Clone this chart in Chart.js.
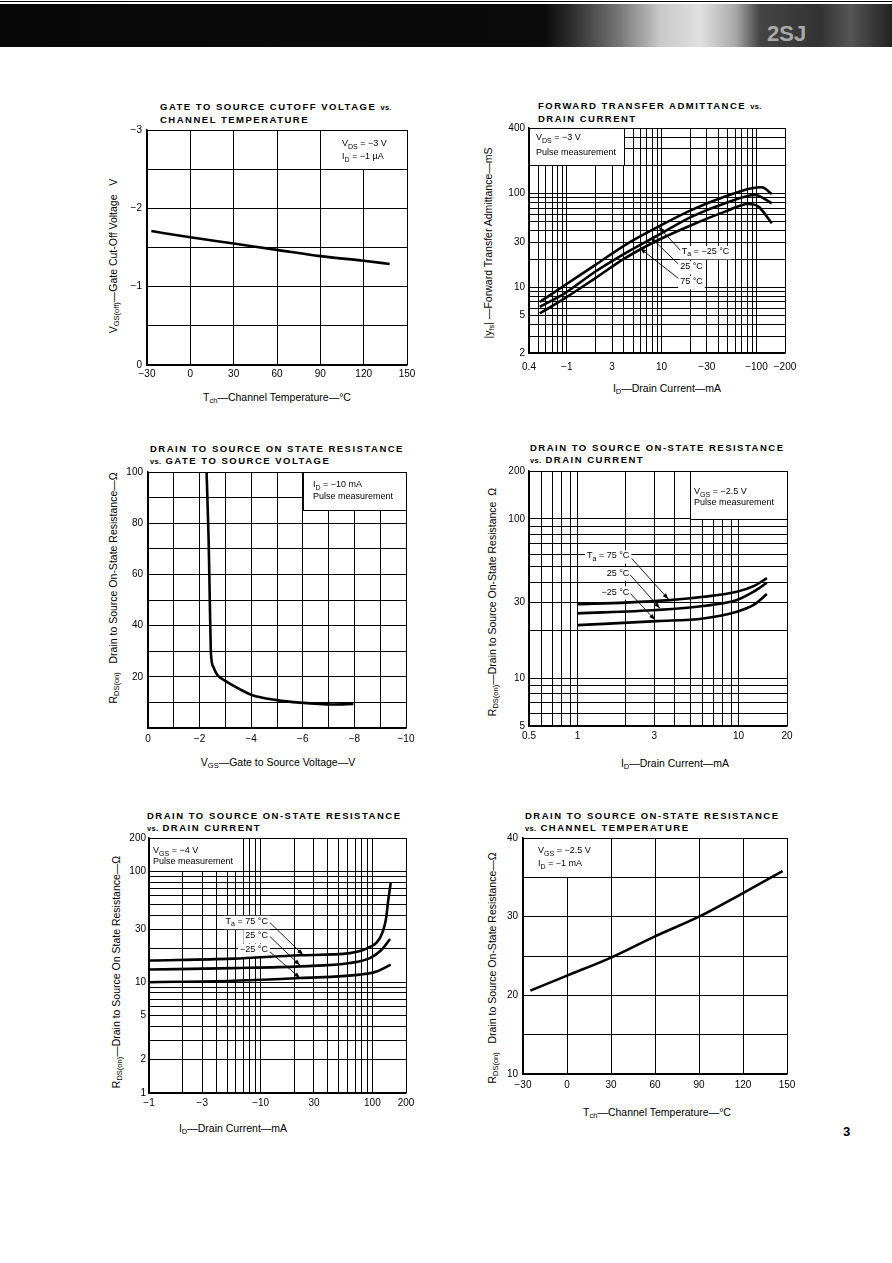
<!DOCTYPE html>
<html>
<head>
<meta charset="utf-8">
<script src="https://cdn.jsdelivr.net/npm/chart.js"></script>
<style>
html, body { margin: 0; padding: 0; background: #fff; }
#page { position: relative; width: 892px; height: 1263px; overflow: hidden; background: #fff; font-family: 'Liberation Sans', Arial, sans-serif; color: #000; }
.hline { position: absolute; left: 0; top: 1px; width: 892px; height: 1px; background: #000; }
.hdr { position: absolute; left: 0; top: 4px; width: 892px; height: 43px;
  background: linear-gradient(90deg, #080808 0px, #0b0b0b 545px, #333 575px, #777 620px, #c8c8c8 660px, #e0e0e0 700px, #aaa 735px, #444 760px, #333 820px, #555 850px, #222 892px); }
.hdr span { position: absolute; left: 767px; top: 17px; font: bold 22px 'Liberation Sans', Arial, sans-serif; color: #aaa; }
.title { position: absolute; font-weight: bold; font-size: 9.5px; letter-spacing: 1.5px; line-height: 11.5px; white-space: nowrap; }
.title small { font-size: 7.5px; letter-spacing: 0.3px; }
.xt, .yt { position: absolute; font-size: 10.5px; white-space: nowrap; }
.xt { transform: translate(-50%, -50%); }
.yt { transform: translate(-50%, -50%) rotate(-90deg); }
sub { font-size: 7.5px; vertical-align: -2px; line-height: 0; }
.pg { position: absolute; left: 843px; top: 1124px; font-weight: bold; font-size: 13px; }
canvas { position: absolute; }
</style>
</head>
<body>
<div id="page">
  <div class="hline"></div>
  <div class="hdr"><span>2SJ</span></div>

  <div class="title" style="left:160px;top:101px">GATE TO SOURCE CUTOFF VOLTAGE <small>vs.</small><br>CHANNEL TEMPERATURE</div>
  <div class="title" style="left:538px;top:100px">FORWARD TRANSFER ADMITTANCE <small>vs.</small><br>DRAIN CURRENT</div>
  <div class="title" style="left:150px;top:443px">DRAIN TO SOURCE ON STATE RESISTANCE<br><small>vs.</small> GATE TO SOURCE VOLTAGE</div>
  <div class="title" style="left:530px;top:442px">DRAIN TO SOURCE ON-STATE RESISTANCE<br><small>vs.</small> DRAIN CURRENT</div>
  <div class="title" style="left:147px;top:810px">DRAIN TO SOURCE ON-STATE RESISTANCE<br><small>vs.</small> DRAIN CURRENT</div>
  <div class="title" style="left:525px;top:810px">DRAIN TO SOURCE ON-STATE RESISTANCE<br><small>vs.</small> CHANNEL TEMPERATURE</div>

  <div class="xt" style="left:277px;top:397px">T<sub>ch</sub>—Channel Temperature—°C</div>
  <div class="yt" style="left:113px;top:256px">V<sub>GS(off)</sub>—Gate Cut-Off Voltage&nbsp;&nbsp;&nbsp;V</div>
  <div class="xt" style="left:667px;top:388px">I<sub>D</sub>—Drain Current—mA</div>
  <div class="yt" style="left:488px;top:243px">|y<sub>fs</sub>|&nbsp;—Forward Transfer Admittance—mS</div>
  <div class="xt" style="left:278px;top:762px">V<sub>GS</sub>—Gate to Source Voltage—V</div>
  <div class="yt" style="left:113px;top:588px">R<sub>DS(on)</sub>&nbsp;&nbsp;&nbsp;Drain to Source On-State Resistance—Ω</div>
  <div class="xt" style="left:675px;top:763px">I<sub>D</sub>—Drain Current—mA</div>
  <div class="yt" style="left:492px;top:602px">R<sub>DS(on)</sub>—Drain to Source On-State Resistance&nbsp;&nbsp;Ω</div>
  <div class="xt" style="left:233px;top:1128px">I<sub>D</sub>—Drain Current—mA</div>
  <div class="yt" style="left:116px;top:972px">R<sub>DS(on)</sub>—Drain to Source On State Resistance—Ω</div>
  <div class="xt" style="left:657px;top:1112px">T<sub>ch</sub>—Channel Temperature—°C</div>
  <div class="yt" style="left:492px;top:968px">R<sub>DS(on)</sub>&nbsp;&nbsp;&nbsp;Drain to Source On-State Resistance—Ω</div>

  <div class="pg">3</div>
</div>

<script>
// ---- data ----
// 1: VGS(off) vs channel temperature
const c1Temp = [-27, 0, 30, 60, 90, 120, 138];
const c1Vgs = [-1.71, -1.63, -1.55, -1.47, -1.39, -1.33, -1.29];

// 2: |yfs| vs ID, three ambient temperatures
const c2IdN25 = [0.52, 0.96, 1.99, 4.12, 9.25, 20.8, 46.7, 89, 114, 145];
const c2YfsN25 = [7.0, 10.6, 17.3, 28.3, 44.4, 67, 93, 114, 117, 99];
const c2Id25 = [0.52, 0.96, 1.99, 4.12, 9.25, 20.8, 46.7, 97, 145];
const c2Yfs25 = [6.2, 8.7, 14.7, 23.1, 36.2, 56.8, 78.9, 96.7, 78.9];
const c2Id75 = [0.52, 0.96, 1.99, 4.12, 9.25, 20.8, 46.7, 82, 105, 145];
const c2Yfs75 = [5.3, 7.7, 12.5, 20.5, 32.0, 46.3, 64.2, 77.5, 72.6, 48.3];

// 3: RDS(on) vs VGS
const c3Vgs = [-2.27, -2.35, -2.40, -2.44, -2.53, -2.69, -2.98, -3.57, -4.02, -4.99, -5.89, -7.18, -7.96];
const c3Rds = [100, 73.4, 47.4, 29.2, 23.9, 20.7, 18.5, 15.1, 12.9, 10.9, 9.9, 9.2, 9.4];

// 4: RDS(on) vs ID at VGS = -2.5 V
const c4Id75 = [1.0, 2.0, 3.75, 6.05, 9.76, 12.4, 15];
const c4Rds75 = [29.1, 29.8, 30.9, 32.4, 34.9, 37.8, 42.4];
const c4Id25 = [1.0, 3.1, 6.05, 9.76, 12.4, 15];
const c4Rds25 = [25.5, 26.8, 28.4, 30.9, 34.9, 39.7];
const c4IdN25 = [1.0, 3.1, 6.05, 9.76, 12.4, 15];
const c4RdsN25 = [21.5, 22.8, 23.7, 26.1, 28.8, 33.7];

// 5: RDS(on) vs ID at VGS = -4 V
const c5Id75 = [1, 5.7, 22.5, 63, 95, 117, 132, 139, 146];
const c5Rds75 = [15.7, 16.3, 17.5, 18.3, 20.8, 25.1, 36.6, 55.6, 78.6];
const c5Id25 = [1, 5.7, 22.5, 63, 95, 121, 144];
const c5Rds25 = [13.0, 13.4, 13.9, 14.9, 16.5, 19.6, 24.5];
const c5IdN25 = [1, 5.7, 22.5, 77.4, 109, 146];
const c5RdsN25 = [10.0, 10.3, 10.9, 11.7, 12.5, 14.4];

// 6: RDS(on) vs channel temperature
const c6Temp = [-25, 0, 30, 60, 90, 120, 147];
const c6Rds = [20.6, 22.5, 24.8, 27.5, 30.0, 33.0, 35.8];

// ---- tick labels ----
const c1XTicks = [-30, 0, 30, 60, 90, 120, 150];
const c1XText = ['−30', '0', '30', '60', '90', '120', '150'];
const c1YTicks = [-3, -2, -1, 0];
const c1YText = ['−3', '−2', '−1', '0'];
const c2XTicks = [0.4, 1, 3, 10, 30, 100, 200];
const c2XText = ['0.4', '−1', '3', '10', '−30', '−100', '−200'];
const c2YTicks = [2, 5, 10, 30, 100, 500];
const c2YText = ['2', '5', '10', '30', '100', '400'];
const c3XTicks = [0, -2, -4, -6, -8, -10];
const c3XText = ['0', '−2', '−4', '−6', '−8', '−10'];
const c3YTicks = [20, 40, 60, 80, 100];
const c3YText = ['20', '40', '60', '80', '100'];
const c4XTicks = [0.5, 1, 3, 10, 20];
const c4XText = ['0.5', '1', '3', '10', '20'];
const c4YTicks = [5, 10, 30, 100, 200];
const c4YText = ['5', '10', '30', '100', '200'];
const c5XTicks = [1, 3, 10, 30, 100, 200];
const c5XText = ['−1', '−3', '−10', '30', '100', '200'];
const c5YTicks = [1, 2, 5, 10, 30, 100, 200];
const c5YText = ['1', '2', '5', '10', '30', '100', '200'];
const c6XTicks = [-30, 0, 30, 60, 90, 120, 150];
const c6XText = ['−30', '0', '30', '60', '90', '120', '150'];
const c6YTicks = [10, 20, 30, 40];
const c6YText = ['10', '20', '30', '40'];

const FONT = "'Liberation Sans', Arial, sans-serif";
const YW = 45, XH = 22, PT = 8, PR = 22;

function steps(a, b, s) {
  const out = [];
  for (let v = a; v <= b + 1e-9; v += s) out.push(+v.toFixed(6));
  return out;
}
function logGrid(min, max) {
  const out = [];
  for (let e = -2; e <= 4; e++) {
    for (let m = 1; m <= 9; m++) {
      const v = +(m * Math.pow(10, e)).toPrecision(6);
      if (v >= min - 1e-9 && v <= max + 1e-9) out.push(v);
    }
  }
  if (out[0] !== min) out.unshift(min);
  if (out[out.length - 1] !== max) out.push(max);
  return out;
}

function axis(type, min, max, grid, vals, text, pad, horiz, reverse) {
  return {
    type: type, min: min, max: max, reverse: !!reverse,
    afterBuildTicks: s => { s.ticks = grid.map(v => ({ value: v })); },
    afterFit: s => {
      if (horiz) s.height = XH; else s.width = YW;
      s.paddingLeft = s.paddingRight = s.paddingTop = s.paddingBottom = 0;
    },
    ticks: {
      autoSkip: false, maxRotation: 0, minRotation: 0, padding: pad, color: '#000',
      font: { family: FONT, size: 10 },
      callback: v => {
        const i = vals.findIndex(t => Math.abs(t - v) < 1e-6 * Math.max(1, Math.abs(t)));
        return i < 0 ? '' : text[i];
      }
    },
    grid: { color: '#000', lineWidth: 1, drawTicks: false, tickLength: 0 },
    border: { display: true, color: '#000', width: 1.5 }
  };
}

function series(xs, ys) {
  return {
    data: xs.map((x, i) => ({ x: x, y: ys[i] })),
    showLine: true, borderColor: '#000', borderWidth: 2.6, pointRadius: 0,
    fill: false, cubicInterpolationMode: 'monotone'
  };
}

// legend boxes, curve labels and arrows, all placed in data units
const notes = {};

function rich(ctx, parts, x, y, size, align, bg) {
  const segs = parts.map(p => typeof p === 'string' ? { t: p, sub: false } : { t: p.s, sub: true });
  let w = 0;
  segs.forEach(s => {
    ctx.font = (s.sub ? size * 0.78 : size) + 'px ' + FONT;
    s.w = ctx.measureText(s.t).width;
    w += s.w;
  });
  let cx = align === 'right' ? x - w : x;
  if (bg) {
    ctx.fillStyle = '#fff';
    ctx.fillRect(cx - 2, y - size * 0.65, w + 4, size * 1.5);
  }
  ctx.textBaseline = 'middle';
  ctx.textAlign = 'left';
  ctx.fillStyle = '#000';
  segs.forEach(s => {
    ctx.font = (s.sub ? size * 0.78 : size) + 'px ' + FONT;
    ctx.fillText(s.t, cx, s.sub ? y + size * 0.3 : y);
    cx += s.w;
  });
}

function arrow(ctx, x1, y1, x2, y2) {
  ctx.beginPath();
  ctx.moveTo(x1, y1);
  ctx.lineTo(x2, y2);
  ctx.stroke();
  const a = Math.atan2(y2 - y1, x2 - x1), L = 6, W = 2.2;
  ctx.beginPath();
  ctx.moveTo(x2, y2);
  ctx.lineTo(x2 - L * Math.cos(a) + W * Math.sin(a), y2 - L * Math.sin(a) - W * Math.cos(a));
  ctx.lineTo(x2 - L * Math.cos(a) - W * Math.sin(a), y2 - L * Math.sin(a) + W * Math.cos(a));
  ctx.closePath();
  ctx.fill();
}

Chart.register({
  id: 'notes',
  beforeDatasetsDraw(chart) {
    const n = notes[chart.canvas.id];
    if (!n) return;
    const sx = chart.scales.x, sy = chart.scales.y, ctx = chart.ctx;
    ctx.save();
    // labels sit on a white patch that breaks the grid, like the printed sheet
    (n.labels || []).forEach(lb => {
      rich(ctx, lb.parts, sx.getPixelForValue(lb.x), sy.getPixelForValue(lb.y), 9, lb.align, true);
    });
    if (n.box) {
      const b = n.box;
      const xa = sx.getPixelForValue(b.x0), xb = sx.getPixelForValue(b.x1);
      const ya = sy.getPixelForValue(b.y0), yb = sy.getPixelForValue(b.y1);
      const l = Math.round(Math.min(xa, xb)), r = Math.round(Math.max(xa, xb));
      const t = Math.round(Math.min(ya, yb)), bt = Math.round(Math.max(ya, yb));
      ctx.fillStyle = '#fff';
      ctx.fillRect(l + 1, t + 1, r - l - 1, bt - t - 1);
      ctx.strokeStyle = '#000';
      ctx.lineWidth = 1;
      ctx.strokeRect(l + 0.5, t + 0.5, r - l, bt - t);
      b.lines.forEach((ln, i) => rich(ctx, ln, l + b.dx, t + b.dy[i], 9, 'left', false));
    }
    ctx.restore();
  },
  afterDatasetsDraw(chart) {
    const n = notes[chart.canvas.id];
    if (!n) return;
    const sx = chart.scales.x, sy = chart.scales.y, ctx = chart.ctx;
    ctx.save();
    ctx.strokeStyle = '#000';
    ctx.fillStyle = '#000';
    ctx.lineWidth = 0.9;
    (n.arrows || []).forEach(a => arrow(ctx,
      sx.getPixelForValue(a[0]), sy.getPixelForValue(a[1]),
      sx.getPixelForValue(a[2]), sy.getPixelForValue(a[3])));
    ctx.restore();
  }
});

function place(id, rect, datasets, xs, ys) {
  const [L, T, R, B] = rect;
  const c = document.createElement('canvas');
  c.id = id;
  const w = R - L + YW + PR, h = B - T + PT + XH;
  c.width = w; c.height = h;
  c.style.left = (L - YW) + 'px';
  c.style.top = (T - PT) + 'px';
  c.style.width = w + 'px';
  c.style.height = h + 'px';
  document.getElementById('page').appendChild(c);
  return new Chart(c, {
    type: 'scatter',
    data: { datasets: datasets },
    options: {
      responsive: false, animation: false, devicePixelRatio: 1,
      layout: { padding: { left: 0, top: PT, right: PR, bottom: 0 } },
      plugins: { legend: { display: false }, tooltip: { enabled: false }, title: { display: false } },
      scales: { x: xs, y: ys }
    }
  });
}

// ---- notes for each panel ----
notes.c1 = {
  box: { x0: 90, x1: 150, y0: -3, y1: -2.5, dx: 22, dy: [14, 27],
    lines: [['V', { s: 'DS' }, ' = −3 V'], ['I', { s: 'D' }, ' = −1 µA']] }
};
notes.c2 = {
  box: { x0: 0.4, x1: 4, y0: 500, y1: 200, dx: 7, dy: [10, 25],
    lines: [['V', { s: 'DS' }, ' = −3 V'], ['Pulse measurement']] },
  labels: [
    { x: 16.3, y: 24, parts: ['T', { s: 'a' }, ' = −25 °C'], align: 'left' },
    { x: 15.7, y: 16.6, parts: ['25 °C'], align: 'left' },
    { x: 15.7, y: 11.5, parts: ['75 °C'], align: 'left' }
  ],
  arrows: [[15.7, 25, 9.25, 44.4], [15, 17.8, 7.87, 33.4], [15, 12.5, 5.93, 26.1]]
};
notes.c3 = {
  box: { x0: -6, x1: -10, y0: 100, y1: 85, dx: 10, dy: [13, 25],
    lines: [['I', { s: 'D' }, ' = −10 mA'], ['Pulse measurement']] }
};
notes.c4 = {
  box: { x0: 5, x1: 20, y0: 200, y1: 100, dx: 4, dy: [21, 32],
    lines: [['V', { s: 'GS' }, ' = −2.5 V'], ['Pulse measurement']] },
  labels: [
    { x: 2.1, y: 58.5, parts: ['T', { s: 'a' }, ' = 75 °C'], align: 'right' },
    { x: 2.1, y: 45.7, parts: ['25 °C'], align: 'right' },
    { x: 2.1, y: 34.7, parts: ['−25 °C'], align: 'right' }
  ],
  arrows: [[2.17, 56.5, 3.67, 31.3], [2.13, 44.4, 3.25, 27.5], [2.13, 34, 3.03, 23.2]]
};
notes.c5 = {
  box: { x0: 1, x1: 7, y0: 200, y1: 100, dx: 4, dy: [13, 24],
    lines: [['V', { s: 'GS' }, ' = −4 V'], ['Pulse measurement']] },
  labels: [
    { x: 11.6, y: 35.2, parts: ['T', { s: 'a' }, ' = 75 °C'], align: 'right' },
    { x: 11.6, y: 26.3, parts: ['25 °C'], align: 'right' },
    { x: 11.6, y: 19.7, parts: ['−25 °C'], align: 'right' }
  ],
  arrows: [[12.1, 34.5, 24, 17.6], [12.1, 25.8, 22.5, 14.2], [12.1, 18.8, 22.5, 10.9]]
};
notes.c6 = {
  box: { x0: -30, x1: 30, y0: 40, y1: 35, dx: 15, dy: [13, 26],
    lines: [['V', { s: 'GS' }, ' = −2.5 V'], ['I', { s: 'D' }, ' = −1 mA']] }
};

// ---- the six panels ----
place('c1', [147, 130, 407, 365],
  [series(c1Temp, c1Vgs)],
  axis('linear', -30, 150, steps(-30, 150, 30), c1XTicks, c1XText, 3, true),
  axis('linear', -3, 0, steps(-3, 0, 0.5), c1YTicks, c1YText, 5, false, true));

place('c2', [529, 128, 785, 353],
  [series(c2IdN25, c2YfsN25), series(c2Id25, c2Yfs25), series(c2Id75, c2Yfs75)],
  axis('logarithmic', 0.4, 200, logGrid(0.4, 200), c2XTicks, c2XText, 8, true),
  axis('logarithmic', 2, 500, logGrid(2, 500), c2YTicks, c2YText, 4, false));

place('c3', [148, 472, 406, 728],
  [series(c3Vgs, c3Rds)],
  axis('linear', -10, 0, steps(-10, 0, 1), c3XTicks, c3XText, 5, true, true),
  axis('linear', 0, 100, steps(0, 100, 10), c3YTicks, c3YText, 5, false));

place('c4', [529, 471, 787, 726],
  [series(c4Id75, c4Rds75), series(c4Id25, c4Rds25), series(c4IdN25, c4RdsN25)],
  axis('logarithmic', 0.5, 20, logGrid(0.5, 20), c4XTicks, c4XText, 4, true),
  axis('logarithmic', 5, 200, logGrid(5, 200), c4YTicks, c4YText, 4, false));

place('c5', [149, 838, 406, 1093],
  [series(c5Id75, c5Rds75), series(c5Id25, c5Rds25), series(c5IdN25, c5RdsN25)],
  axis('logarithmic', 1, 200, logGrid(1, 200), c5XTicks, c5XText, 4, true),
  axis('logarithmic', 1, 200, logGrid(1, 200), c5YTicks, c5YText, 3, false));

place('c6', [523, 838, 787, 1074],
  [series(c6Temp, c6Rds)],
  axis('linear', -30, 150, steps(-30, 150, 30), c6XTicks, c6XText, 5, true),
  axis('linear', 10, 40, steps(10, 40, 5), c6YTicks, c6YText, 5, false));
</script>
</body>
</html>
